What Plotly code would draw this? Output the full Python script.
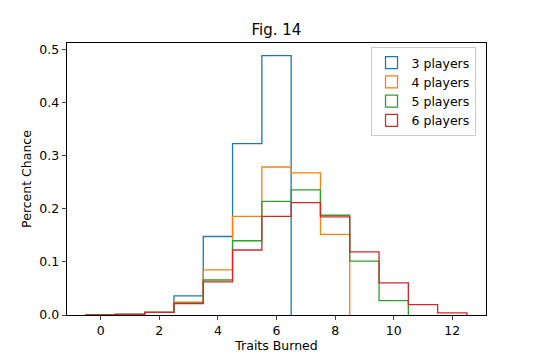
import plotly.graph_objects as go

traits = list(range(0, 13))
labels = ["3 players", "4 players", "5 players", "6 players"]
colors = ["#1f77b4", "#ff7f0e", "#2ca02c", "#d62728"]

p3 = [0.0002, 0.001, 0.005, 0.036, 0.148, 0.323, 0.489, 0, 0, 0, 0, 0, 0]
p4 = [0.0002, 0.001, 0.005, 0.024, 0.085, 0.186, 0.279, 0.268, 0.152, 0, 0, 0, 0]
p5 = [0.0002, 0.001, 0.005, 0.0225, 0.066, 0.140, 0.214, 0.236, 0.188, 0.1015, 0.027, 0, 0]
p6 = [0.0002, 0.001, 0.005, 0.0215, 0.0625, 0.1225, 0.186, 0.212, 0.185, 0.119, 0.0605, 0.0196, 0.004]
series = [p3, p4, p5, p6]

xticks = [0, 2, 4, 6, 8, 10, 12]
yticks = [0.0, 0.1, 0.2, 0.3, 0.4, 0.5]

fig = go.Figure()
for lab, col, vals in zip(labels, colors, series):
    # trim trailing zero bins so the outline drops to zero at the last non-empty bin
    n = len(vals)
    while n > 0 and vals[n - 1] == 0:
        n -= 1
    t = traits[:n]
    v = vals[:n]
    left = [k - 0.5 for k in t]
    right_edge = t[-1] + 0.5
    xs = [left[0]] + left + [right_edge, right_edge]
    ys = [0] + v + [v[-1], 0]
    fig.add_trace(go.Scatter(
        x=xs, y=ys, mode="lines", line=dict(color=col, width=1.3, shape="hv"),
        name=lab, legendgroup=lab, showlegend=False, hoverinfo="skip"))
    # legend swatch (outlined rectangle, like matplotlib step histogram patches)
    fig.add_trace(go.Bar(
        x=[None], y=[None], name=lab, legendgroup=lab,
        marker=dict(color="rgba(255,255,255,0)", line=dict(color=col, width=1.3))))

fig.update_layout(
    width=540, height=360,
    margin=dict(l=67, r=54, t=43, b=45),
    paper_bgcolor="white", plot_bgcolor="white",
    font=dict(family="DejaVu Sans", size=12.5, color="black"),
    title=dict(text="Fig. 14", x=0.5, xref="paper", xanchor="center",
               y=1, yref="container", yanchor="top", pad=dict(t=24),
               font=dict(size=15)),
    showlegend=True,
    legend=dict(x=0.975, y=0.985, xanchor="right", yanchor="top",
                bordercolor="#cccccc", borderwidth=1, bgcolor="rgba(255,255,255,0.8)",
                font=dict(size=12.5), tracegroupgap=0, itemwidth=30),
)
fig.update_xaxes(range=[-1.15, 13.15], tickvals=xticks, ticks="outside", ticklen=4.4,
                 showgrid=False, zeroline=False, showline=True, linecolor="black",
                 linewidth=0.9, mirror=True,
                 title=dict(text="Traits Burned", standoff=2, font=dict(size=12.5)))
fig.update_yaxes(range=[0, 0.5127], tickvals=yticks, tickformat=".1f", ticks="outside",
                 ticklen=4.4, showgrid=False, zeroline=False, showline=True,
                 linecolor="black", linewidth=0.9, mirror=True,
                 title=dict(text="Percent Chance", standoff=4, font=dict(size=12.5)))

fig.write_html("out.html", config={"displayModeBar": False},
               post_script="document.body.style.margin='0';")
